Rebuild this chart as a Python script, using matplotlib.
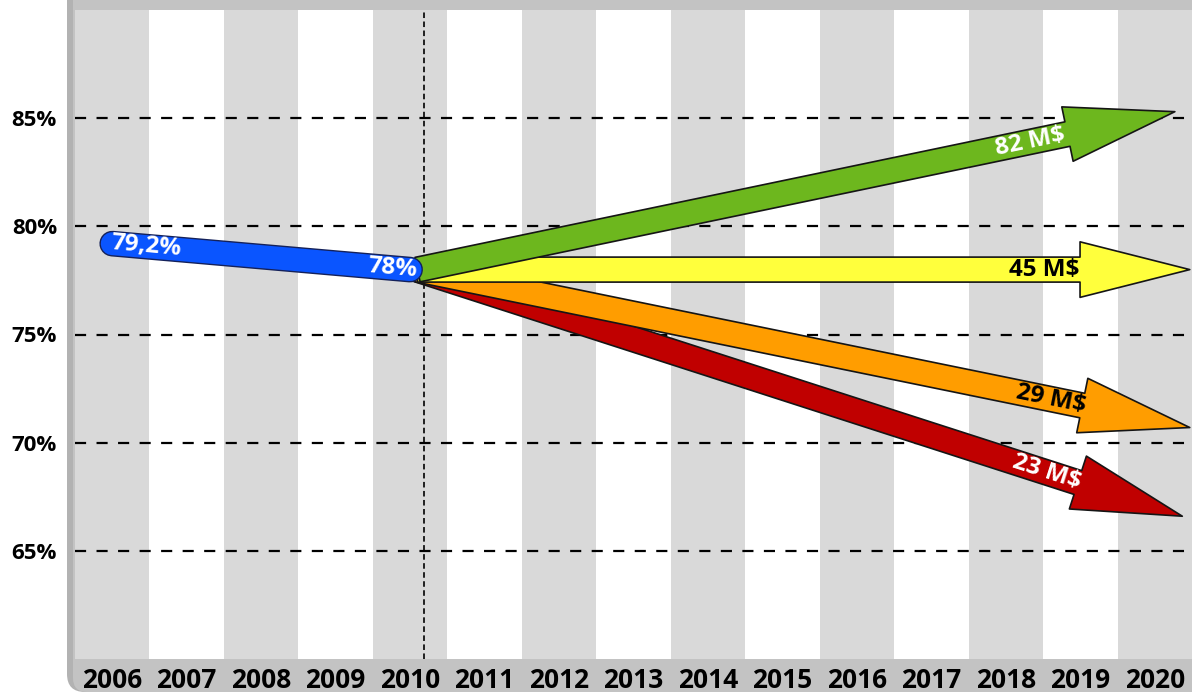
import numpy as np
import matplotlib.pyplot as plt
import matplotlib.patheffects as pe
from matplotlib.patches import FancyBboxPatch

plt.rcParams['font.family'] = ['Open Sans', 'DejaVu Sans']
plt.rcParams['font.weight'] = 'bold'
plt.rcParams['lines.scale_dashes'] = False

# data
years = list(range(2006, 2021))
y_ticks = [65, 70, 75, 80, 85]

hist_years = [2006, 2010]
hist_values = [79.2, 78.0]
hist_labels = ['79,2%', '78%']
hist_label_x = [2006.45, 2009.76]

start_year = 2010.1
start_value = 78.0
scenario_labels = ['23 M$', '29 M$', '45 M$', '82 M$']
tip_years = [2020.37, 2020.47, 2020.47, 2020.27]
tip_values = [66.6, 70.7, 78.0, 85.3]
label_years = [2018.55, 2018.6, 2018.52, 2018.33]
fills = ['#c00000', '#ff9d00', '#ffff3c', '#6db71e']
text_colors = ['white', 'black', 'black', 'white']
split_year = 2010.18

fig = plt.figure(figsize=(11.92, 6.92), dpi=100)
fig.patch.set_facecolor('white')

# grey frame with rounded lower-left corner
frame_dark = FancyBboxPatch((0.67, 0), 12, 8, boxstyle='round,pad=0,rounding_size=0.18',
                            transform=fig.dpi_scale_trans, fc='#b2b2b2', ec='none', zorder=-2)
frame = FancyBboxPatch((0.73, 0), 12, 8, boxstyle='round,pad=0,rounding_size=0.14',
                       transform=fig.dpi_scale_trans, fc='#c3c3c3', ec='none', zorder=-1)
fig.add_artist(frame_dark)
fig.add_artist(frame)

ax = fig.add_axes([75 / 1192, 33 / 692, 1117 / 1192, 649 / 692])
ax.set_facecolor('white')
for s in ax.spines.values():
    s.set_visible(False)
ax.set_xlim(years[0] - 0.5, years[-1] + 0.5)
ax.set_ylim(60, 90)

for i, yr in enumerate(years):
    if i % 2 == 0:
        ax.axvspan(yr - 0.5, yr + 0.5, color='#d9d9d9', lw=0, zorder=0)

for v in y_ticks:
    ax.axhline(v, color='black', lw=1.6, ls=(0, (8, 7.5)), zorder=1)

ax.axvline(split_year, color='black', lw=1.2, ls=(0, (4, 2.5)), zorder=2)

ax.set_xticks(years)
ax.set_xticklabels([str(y) for y in years], fontsize=19, fontweight='bold')
ax.set_yticks(y_ticks)
ax.set_yticklabels([f'{v}%' for v in y_ticks], fontsize=16, fontweight='bold')
ax.tick_params(axis='x', length=0, pad=6)
ax.tick_params(axis='y', length=0, pad=13)


def screen_angle(x0, y0, x1, y1):
    p0 = ax.transData.transform((x0, y0))
    p1 = ax.transData.transform((x1, y1))
    return np.degrees(np.arctan2(p1[1] - p0[1], p1[0] - p0[0]))


# scenario arrows
for i in range(len(scenario_labels)):
    ax.annotate('', xy=(tip_years[i], tip_values[i]), xytext=(start_year, start_value),
                arrowprops=dict(arrowstyle='simple,head_length=7.9,head_width=4.0,tail_width=1.8',
                                mutation_scale=10, fc=fills[i], ec='#151515', lw=1.2,
                                shrinkA=0, shrinkB=0),
                zorder=3 + i)
    ang = screen_angle(start_year, start_value, tip_years[i], tip_values[i])
    t = (label_years[i] - start_year) / (tip_years[i] - start_year)
    ly = start_value + t * (tip_values[i] - start_value)
    ax.text(label_years[i], ly, scenario_labels[i], color=text_colors[i], fontsize=17.5,
            fontweight='bold', rotation=ang, rotation_mode='anchor',
            ha='center', va='center', zorder=10)

# historical pill
ax.plot(hist_years, hist_values, color='#0a55ff', lw=16.5, solid_capstyle='round',
        path_effects=[pe.Stroke(linewidth=18.5, foreground='#14215a'), pe.Normal()], zorder=8)
ang = screen_angle(hist_years[0], hist_values[0], hist_years[1], hist_values[1])
for lx, lab in zip(hist_label_x, hist_labels):
    t = (lx - hist_years[0]) / (hist_years[1] - hist_years[0])
    ly = hist_values[0] + t * (hist_values[1] - hist_values[0])
    ax.text(lx, ly, lab, color='white', fontsize=17.5, fontweight='bold', rotation=ang,
            rotation_mode='anchor', ha='center', va='center', zorder=10)

fig.savefig('out.png', dpi=100)
